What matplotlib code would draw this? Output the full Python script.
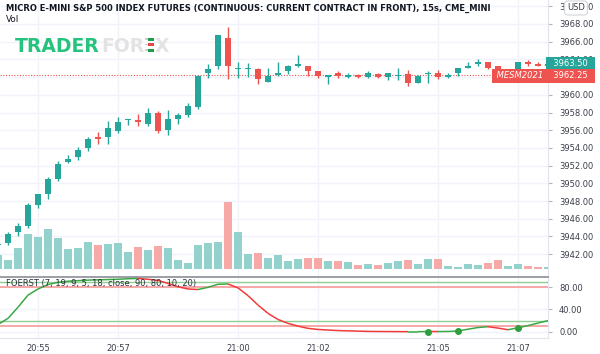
import matplotlib
matplotlib.use('Agg')
import matplotlib.pyplot as plt
from matplotlib.collections import LineCollection
from matplotlib.patches import Rectangle
from matplotlib.transforms import blended_transform_factory
from datetime import datetime, timedelta
import numpy as np

# 15s bars, bar 0 = 20:54:00
start_time = datetime(2021, 3, 26, 20, 54, 0)
bar_seconds = 15

opens = [3943.0, 3943.3, 3944.5, 3945.2, 3947.55, 3948.75, 3950.5, 3952.45, 3952.95, 3953.95,
         3955.2, 3955.2, 3955.95, 3957.2, 3957.15, 3956.7, 3958.0, 3956.0, 3957.25, 3957.75,
         3958.65, 3962.45, 3963.2, 3966.4, 3962.9, 3962.95, 3962.95, 3961.45, 3962.25, 3962.65,
         3963.2, 3963.2, 3962.7, 3962.0, 3962.45, 3962.0, 3962.2, 3962.0, 3962.3, 3962.0,
         3962.15, 3962.35, 3961.3, 3962.3, 3962.45, 3962.05, 3962.45, 3963.0, 3963.5, 3963.75,
         3963.2, 3962.3, 3962.5, 3963.75, 3963.5, 3963.25]
highs = [3943.3, 3944.5, 3945.55, 3947.75, 3948.85, 3950.75, 3952.5, 3953.2, 3954.15, 3955.25,
         3955.85, 3957.0, 3957.5, 3957.3, 3957.8, 3958.55, 3958.2, 3958.3, 3958.0, 3959.05,
         3962.25, 3963.5, 3966.75, 3967.7, 3963.75, 3963.55, 3963.0, 3963.0, 3963.75, 3963.35,
         3964.5, 3963.25, 3962.7, 3962.25, 3962.7, 3962.45, 3962.35, 3962.7, 3962.45, 3962.45,
         3963.0, 3962.8, 3962.25, 3962.7, 3962.8, 3962.45, 3963.0, 3963.75, 3964.0, 3963.75,
         3963.2, 3962.6, 3963.7, 3963.95, 3963.75, 3963.6]
lows = [3942.9, 3943.0, 3944.05, 3945.0, 3947.25, 3948.2, 3950.25, 3952.25, 3952.65, 3953.7,
        3954.45, 3954.45, 3955.7, 3956.6, 3956.5, 3956.45, 3955.7, 3955.45, 3956.65, 3957.5,
        3958.4, 3961.95, 3962.9, 3961.75, 3961.85, 3962.05, 3961.2, 3961.4, 3962.15, 3962.35,
        3963.1, 3962.1, 3961.85, 3961.2, 3961.85, 3961.85, 3961.85, 3961.85, 3961.85, 3961.65,
        3961.65, 3961.0, 3961.3, 3961.3, 3961.75, 3961.95, 3962.1, 3963.0, 3963.25, 3962.9,
        3962.2, 3962.0, 3962.3, 3963.2, 3963.2, 3963.15]
closes = [3943.1, 3944.3, 3945.2, 3947.5, 3948.75, 3950.5, 3952.2, 3952.8, 3953.75, 3955.0,
          3955.0, 3956.2, 3956.9, 3957.25, 3956.95, 3958.0, 3955.95, 3957.25, 3957.75, 3958.75,
          3962.15, 3962.9, 3966.7, 3963.2, 3962.95, 3963.0, 3961.75, 3962.1, 3962.45, 3963.2,
          3963.45, 3962.7, 3962.15, 3962.25, 3962.15, 3962.25, 3962.0, 3962.45, 3962.05, 3962.45,
          3962.2, 3961.3, 3962.1, 3962.35, 3962.05, 3962.25, 3963.0, 3963.25, 3963.75, 3963.0,
          3962.5, 3962.5, 3963.65, 3963.5, 3963.25, 3963.5]
volumes = [164, 108, 248, 416, 388, 484, 376, 244, 252, 324, 288, 300, 308, 200, 260, 232,
           276, 252, 108, 76, 292, 316, 320, 800, 440, 180, 192, 132, 172, 92, 120, 128, 128,
           96, 100, 80, 52, 60, 52, 68, 100, 104, 56, 124, 116, 40, 28, 56, 48, 68, 108, 36,
           60, 40, 20, 28]
foerst = [13, 24, 44, 66, 77, 85, 89, 91, 92, 93, 93.5, 94, 94.5, 95.5, 96, 94.5, 92.5, 87,
          81, 77, 76, 80, 85.5, 86, 79, 65, 48, 33, 22, 15, 10, 6, 4, 3, 2, 1.5, 1, 0.5, 0.3,
          0.2, 0.1, 0, 0, 0.3, 0.2, 0.4, 1.2, 4.5, 7.5, 9, 6.5, 3.5, 7, 11, 15.5, 20]
signal_bars = [43, 46, 52]
foerst_levels = [90, 80, 20, 10]
tick_times = ['20:55', '20:57', '21:00', '21:02', '21:05', '21:07']
price_ticks = [3942, 3944, 3946, 3948, 3950, 3952, 3954, 3956, 3958, 3960, 3964, 3966, 3968, 3970]
osc_ticks = [0, 40, 80]
last_price = 3963.50
mesm_price = 3962.25

title = 'MICRO E-MINI S&P 500 INDEX FUTURES (CONTINUOUS: CURRENT CONTRACT IN FRONT), 15s, CME_MINI'

UP = '#26a69a'
DOWN = '#ef5350'
UP_VOL = '#93d2cc'
DOWN_VOL = '#f7a9a7'
GRID = '#f0f3fa'
TXT = '#131722'
AXC = '#3b3f4a'

W, H = 600, 354
fig = plt.figure(figsize=(W / 100, H / 100), dpi=100)
fig.patch.set_facecolor('white')

x = np.arange(len(opens))
o = np.array(opens); c = np.array(closes)
up = c >= o

def to_bar(hhmm):
    hh, mm = map(int, hhmm.split(':'))
    t = start_time.replace(hour=hh, minute=mm)
    return (t - start_time).total_seconds() / bar_seconds

tick_pos = [to_bar(t) for t in tick_times]

main_rect = [0, 1 - 276 / H, 548 / W, 276 / H]
ax_vol = fig.add_axes(main_rect)
ax = fig.add_axes(main_rect, sharex=ax_vol)
ax.patch.set_alpha(0)
ax_osc = fig.add_axes([0, 1 - 338 / H, 548 / W, 61 / H], sharex=ax_vol)

ax_vol.set_xlim(0.2, 55.0)
ax.set_ylim(3939.53, 3970.71)
ax_vol.set_ylim(-84, 3228)

# grid behind volume
grid_prices = np.arange(3942, 3971, 2)
ax_vol.set_xticks(tick_pos)
ax_vol.grid(axis='x', color=GRID, lw=1)
ax_vol.set_axisbelow(True)
ax_vol.hlines(grid_prices, 0, 1, transform=blended_transform_factory(ax_vol.transAxes, ax.transData),
              color=GRID, lw=1, zorder=0)
ax_vol.set_yticks([])
ax_vol.tick_params(axis='x', length=0, labelbottom=False)
for s in ax_vol.spines.values():
    s.set_visible(False)

ax_vol.bar(x, volumes, width=0.86, color=np.where(up, UP_VOL, DOWN_VOL), zorder=2)

# candles
cols = np.where(up, UP, DOWN)
ax.vlines(x, lows, highs, color=cols, lw=1, zorder=3)
body_low = np.minimum(o, c)
body_h = np.maximum(np.abs(c - o), 0.12)
ax.bar(x, body_h, bottom=body_low, width=0.68, color=cols, zorder=4)

ax.axhline(mesm_price, color=DOWN, lw=0.8, ls=(0, (1, 1.5)), zorder=2)

ax.yaxis.tick_right()
ax.set_yticks(price_ticks)
ax.set_yticklabels(['%.2f' % p for p in price_ticks])
ax.tick_params(axis='y', length=3, width=0.8, color='#b2b5be', pad=5, labelsize=6, labelcolor=AXC)
ax.tick_params(axis='x', length=0, labelbottom=False)
for name, s in ax.spines.items():
    s.set_visible(name == 'right')
ax.spines['right'].set_color('#e0e3eb')

# price labels on axis
bl = blended_transform_factory(ax.transAxes, ax.transData)
ax.text(1.0, last_price, '  3963.50  ', transform=bl, ha='left', va='center', fontsize=6,
        color='white', clip_on=False, zorder=10,
        bbox=dict(boxstyle='square,pad=0.25', fc=UP, ec='none'))
ax.text(1.0, mesm_price - 0.12, '  3962.25  ', transform=bl, ha='left', va='center', fontsize=6,
        color='white', clip_on=False, zorder=10,
        bbox=dict(boxstyle='square,pad=0.25', fc=DOWN, ec='none'))
ax.text(0.996, mesm_price - 0.12, ' MESM2021 ', transform=bl, ha='right', va='center', fontsize=6,
        fontstyle='italic', color='white', zorder=10,
        bbox=dict(boxstyle='square,pad=0.25', fc=DOWN, ec='none'))

# oscillator pane
ax_osc.set_ylim(-11.4, 98.6)
ax_osc.set_xticks(tick_pos)
ax_osc.set_xticklabels(tick_times)
ax_osc.grid(axis='x', color=GRID, lw=1)
ax_osc.set_axisbelow(True)
ax_osc.hlines(osc_ticks, 0, 1, transform=ax_osc.get_yaxis_transform(), color=GRID, lw=1, zorder=0)
ax_osc.yaxis.tick_right()
ax_osc.set_yticks(osc_ticks)
ax_osc.set_yticklabels(['%.2f' % v for v in osc_ticks])
ax_osc.tick_params(axis='y', length=3, width=0.8, color='#b2b5be', pad=5, labelsize=6, labelcolor=AXC)
ax_osc.tick_params(axis='x', length=0, pad=4, labelsize=6, labelcolor=AXC)
ax_osc.spines['left'].set_visible(False)
ax_osc.spines['top'].set_color('#8a8d96')
ax_osc.spines['top'].set_linewidth(1.2)
ax_osc.spines['bottom'].set_color('#e0e3eb')
ax_osc.spines['right'].set_color('#e0e3eb')

for lv in foerst_levels:
    ax_osc.axhline(lv, color='#8fcf93' if lv in (90, 20) else '#f7a1a1', lw=1.0 if lv in (90, 20) else 1.3, zorder=1)

f = np.array(foerst)
pts = np.column_stack([x, f])
segs = np.stack([pts[:-1], pts[1:]], axis=1)
seg_cols = np.where(np.diff(f) >= 0, '#3aa844', '#f23a3a')
ax_osc.add_collection(LineCollection(segs, colors=seg_cols, lw=1.1, zorder=3))
ax_osc.plot(signal_bars, f[signal_bars], 'o', ms=4, color='#2e9e3e', zorder=4)

ax_osc.text(0.011, 0.96, 'FOERST (7, 19, 9, 5, 18, close, 90, 80, 10, 20)', transform=ax_osc.transAxes,
            ha='left', va='top', fontsize=6, color='#2a2e39', zorder=5)

# header
fig.text(6 / W, 1 - 8 / H, title, ha='left', va='center', fontsize=6.0, fontweight='bold', color=TXT)
fig.text(6 / W, 1 - 19 / H, 'Vol', ha='left', va='center', fontsize=6.3, color=TXT)

fig.text(576 / W, 1 - 8 / H, 'USD', ha='center', va='center', fontsize=6, color=AXC, zorder=20,
         bbox=dict(boxstyle='round,pad=0.3,rounding_size=0.4', fc='white', ec='#d1d4dc', lw=0.8))

# watermark
r = fig.canvas.get_renderer()
base_y = 1 - 52 / H
t1 = fig.text(15 / W, base_y, 'TRADER', ha='left', va='baseline', fontsize=13.5, fontweight='bold',
              color='#25c37d', zorder=1)
x1 = t1.get_window_extent(r).x1 / W
t2 = fig.text(x1 + 1 / W, base_y, 'FOR', ha='left', va='baseline', fontsize=13.5, fontweight='bold',
              color='#e3e3e3', zorder=1)
x2 = t2.get_window_extent(r).x1 / W
icon = [(38, '#1f9e4a'), (43.5, '#e84646'), (49, '#1f9e4a')]
for yy, cc in icon:
    fig.patches.append(Rectangle((x2 + 4 / W, 1 - (yy + 2.5) / H), 6 / W, 3 / H,
                                 transform=fig.transFigure, fc=cc, ec='none'))
    fig.patches.append(Rectangle((x2 + 1 / W, 1 - (yy + 1.5) / H), 3 / W, 1 / H,
                                 transform=fig.transFigure, fc='#cfcfcf', ec='none'))
fig.text(x2 + 11 / W, base_y, 'X', ha='left', va='baseline', fontsize=13.5, fontweight='bold',
         color='#e3e3e3', zorder=1)

fig.savefig('out.png', dpi=100)
